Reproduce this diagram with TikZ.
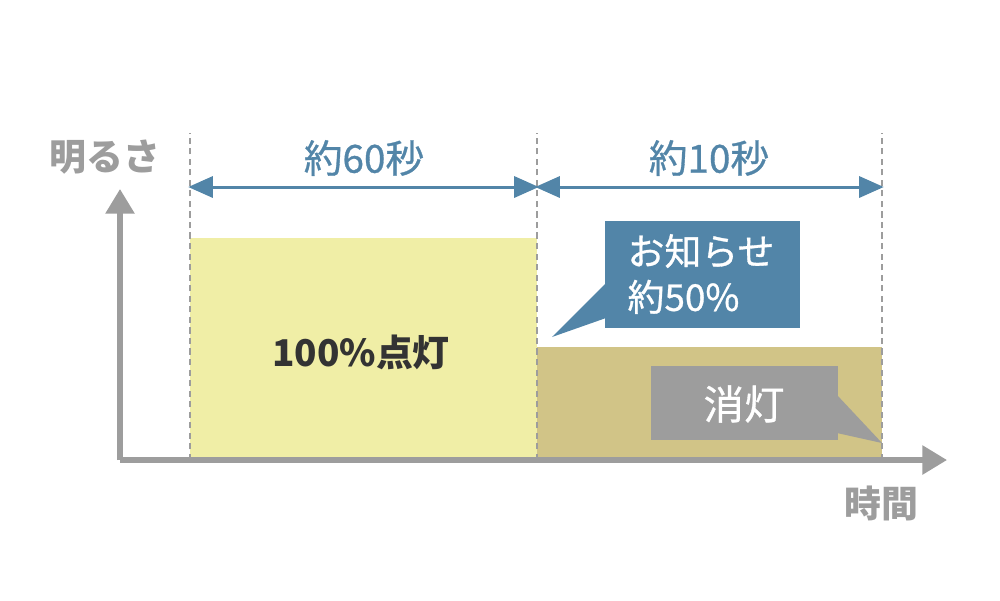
\documentclass[tikz,border=0pt]{standalone}
\usepackage{fontspec}
\newfontfamily\jp{Noto Sans CJK JP}
\newfontfamily\jpmed[FakeBold=0.8]{Noto Sans CJK JP}
\usetikzlibrary{arrows.meta}
\definecolor{fullbar}{HTML}{F0EEA6}
\definecolor{halfbar}{HTML}{D1C487}
\definecolor{infoblue}{HTML}{5285A8}
\definecolor{axisgray}{HTML}{9D9D9D}
\definecolor{darktext}{HTML}{333333}
\tikzset{
  axis/.style={axisgray, line width=3pt, -{Triangle[width=16pt,length=14pt]}},
  span/.style={infoblue, line width=1.7pt, {Triangle[width=12pt,length=14pt]}-{Triangle[width=12pt,length=14pt]}, shorten <=-1pt, shorten >=-1pt},
  markline/.style={axisgray, line width=1.5pt, dash pattern=on 3.5pt off 2.5pt},
  spanlabel/.style={infoblue, font=\jpmed\fontsize{22}{26}\selectfont},
  axislabel/.style={axisgray, font=\jp\bfseries\fontsize{21}{24}\selectfont},
  bubble/.style={text=white, inner sep=0pt, align=left}
}
\begin{document}
\begin{tikzpicture}[x=0.02cm,y=-0.02cm]
  \useasboundingbox (0,0) rectangle (1000,600);
  % time marks on the axis
  \coordinate (o) at (120,460);
  \coordinate (t0) at (190,460);
  \coordinate (t1) at (537,460);
  \coordinate (t2) at (882,460);
  % brightness bars
  \fill[fullbar] (t0) rectangle (537,238);
  \fill[halfbar] (t1) rectangle (882,347);
  \node[text=darktext, font=\jp\bfseries\fontsize{21}{24}\selectfont] (full) at (361,352) {100\%点灯};
  % dashed marks
  \foreach \t in {t0,t1,t2}
    \draw[markline] (\t) -- ++(0,-327);
  % axes
  \coordinate (ytip) at (120,189);
  \coordinate (xtip) at (947,460);
  \draw[axis] (o) -- (ytip);
  \draw[axis] (o) -- (xtip);
  \node[axislabel] (bright) at (105,157) {明るさ};
  \node[axislabel] (time) at (881,503) {時間};
  % durations
  \coordinate (a0) at (190,187);
  \coordinate (a1) at (537,187);
  \coordinate (a2) at (882,187);
  \draw[span] (a0) -- (a1);
  \draw[span] (a1) -- (a2);
  \node[spanlabel] (sixty) at (364,158) {約60秒};
  \node[spanlabel] (ten) at (709,158) {約10秒};
  % callouts
  \fill[infoblue] (605,221) rectangle (800,328);
  \fill[infoblue] (606,283) -- (552,337) coordinate (infotip) -- (606,318) -- cycle;
  \node[bubble, font=\jpmed\fontsize{21}{26}\selectfont] (info) at (701,274) {お知らせ\\約50\%};
  \fill[axisgray] (651,366) rectangle (838,440);
  \fill[axisgray] (837,395) -- (882,443) coordinate (offtip) -- (837,433) -- cycle;
  \node[bubble, font=\jpmed\fontsize{23}{26}\selectfont] (off) at (744,404) {消灯};
\end{tikzpicture}
\end{document}
